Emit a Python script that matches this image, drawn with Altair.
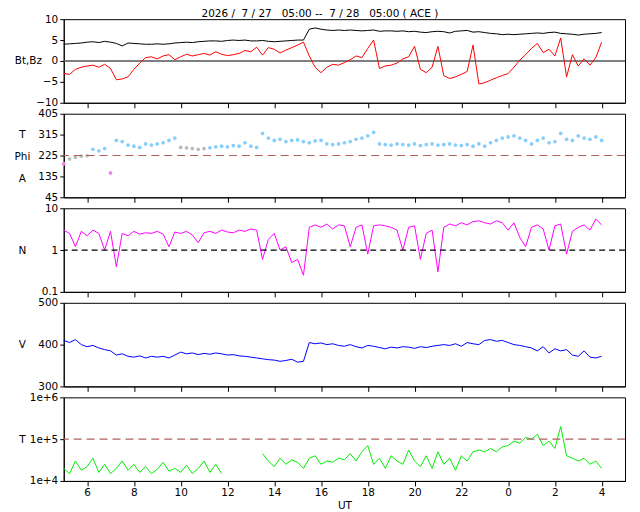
import altair as alt
import pandas as pd

hours = [5.0 + 0.25 * i for i in range(93)]

bt = [4.0,4.1,4.2,4.3,4.5,4.6,4.4,4.7,4.5,
      4.2,3.6,4.3,4.2,4.1,4.0,4.0,4.1,
      4.0,4.1,4.3,4.4,4.5,4.4,4.6,4.7,
      4.8,4.8,4.7,4.9,5.0,4.9,5.0,4.8,
      4.8,4.9,4.7,4.6,4.7,4.8,4.9,5.0,
      5.0,7.6,7.9,7.6,7.4,7.3,7.4,7.3,
      7.4,7.3,7.2,7.3,7.4,7.1,7.2,7.2,
      7.1,7.2,7.0,7.1,6.9,6.8,7.0,7.1,
      7.0,6.7,7.1,7.2,7.3,6.9,7.0,6.8,
      6.6,6.5,6.3,6.4,6.3,6.4,6.5,6.6,
      6.7,6.6,6.8,6.9,6.6,6.5,6.4,6.2,
      6.4,6.5,6.6,6.8]
bz = [-3.0,-3.2,-2.0,-1.5,-1.2,-1.0,-1.5,-0.8,-1.8,
      -4.5,-4.3,-3.8,-2.0,-0.5,0.8,1.0,0.5,
      1.2,1.5,0.3,1.0,1.6,1.2,1.5,1.8,
      1.4,2.2,1.6,1.3,1.5,1.8,2.5,2.2,
      3.3,1.4,3.2,2.8,1.9,2.6,3.2,3.8,
      4.5,1.2,-1.5,-2.8,-1.5,-0.8,-1.0,-0.4,
      0.3,1.2,0.8,3.0,5.0,-1.8,-1.2,-1.0,
      -0.5,0.5,1.0,3.5,-2.0,-2.8,-1.5,3.5,
      -3.5,-4.2,-3.8,-3.2,-2.5,3.8,-5.5,-5.2,
      -4.6,-4.0,-3.5,-3.0,-1.5,0.2,1.5,3.0,
      4.2,2.0,2.8,1.2,5.5,-3.8,1.5,-1.2,
      0.5,-1.0,0.8,4.5]
phi = [190,210,218,222,224,252,245,255,150,
       290,285,270,265,260,275,270,275,
       280,290,300,260,258,255,252,255,
       258,262,265,262,268,265,280,265,
       260,320,300,290,295,285,290,292,
       285,280,288,290,275,272,275,280,
       285,295,300,310,325,275,272,270,
       275,272,270,275,268,272,275,270,
       272,275,270,268,272,265,275,265,
       280,290,300,305,310,300,290,275,
       290,300,280,285,320,295,290,310,
       300,295,305,290]
phi_cat = (["m"] + ["g"] * 4 + ["b"] * 3 + ["m"] + ["b"] * 11 + ["g"] * 5 + ["b"] * 68)
dens = [3.0,2.5,1.2,2.8,2.2,3.0,2.5,1.0,2.8,
        0.4,2.5,2.2,2.8,2.4,2.6,2.5,2.8,
        2.4,1.2,2.7,2.5,2.8,2.3,1.5,2.6,
        2.8,2.5,3.0,2.7,2.6,3.0,2.8,3.2,
        3.0,0.6,1.8,2.5,1.0,1.2,0.5,0.6,
        0.25,3.5,4.0,3.5,4.2,3.2,4.0,3.8,
        1.2,3.5,4.0,0.8,3.8,4.0,3.8,3.5,
        3.0,1.0,3.5,3.8,0.6,2.5,3.0,0.3,
        3.5,4.2,3.8,4.5,4.0,4.8,5.0,4.5,
        4.2,5.0,4.5,3.0,4.5,2.0,1.2,3.5,
        4.0,3.2,1.0,3.8,4.2,0.8,2.8,3.5,
        4.0,3.0,5.5,4.0]
vel = [410,405,412,400,395,398,392,388,385,
       375,378,372,370,373,368,372,370,
       372,368,375,382,378,380,376,379,
       377,380,378,375,376,373,372,370,
       368,366,364,363,360,362,365,358,
       360,405,402,404,400,402,398,396,
       400,395,392,398,396,393,390,394,
       392,395,394,391,395,393,396,398,
       400,398,402,396,405,402,400,410,
       412,408,410,405,400,398,395,392,
       385,395,380,390,385,388,375,372,
       385,370,368,372]
temp = [2.0e4,1.5e4,3.0e4,1.8e4,2.2e4,3.5e4,1.6e4,2.5e4,1.5e4,
        2.0e4,3.0e4,1.8e4,2.5e4,1.6e4,2.2e4,1.5e4,1.9e4,
        2.8e4,1.7e4,2.0e4,1.6e4,2.4e4,1.5e4,2.0e4,3.0e4,
        1.6e4,2.5e4,1.5e4,None,None,None,None,None,
        None,4.5e4,3.0e4,2.2e4,3.5e4,2.5e4,3.2e4,2.8e4,
        2.0e4,3.5e4,4.0e4,2.5e4,3.0e4,2.8e4,3.5e4,3.2e4,
        4.5e4,3.0e4,5.0e4,7.0e4,2.5e4,3.5e4,2.0e4,4.0e4,
        3.0e4,2.5e4,5.5e4,3.0e4,2.2e4,4.0e4,2.0e4,5.0e4,
        2.5e4,3.5e4,1.8e4,4.0e4,3.0e4,5.0e4,5.5e4,5.0e4,
        6.0e4,5.0e4,6.5e4,7.0e4,9.0e4,8.0e4,1.1e5,1.0e5,
        1.3e5,7.0e4,9.0e4,6.0e4,2.0e5,4.0e4,3.5e4,3.0e4,
        3.5e4,2.5e4,3.0e4,2.0e4]
xticks = list(range(6, 29, 2))

seg = []
s = 0
for i, t in enumerate(temp):
    if t is None and (i == 0 or temp[i - 1] is not None):
        s += 1
    seg.append(s)
df = pd.DataFrame(dict(h=hours, bt=bt, bz=bz, phi=phi, pc=phi_cat, n=dens, v=vel, t=temp, seg=seg))
dft = df.dropna(subset=["t"])

W = 564
H = 84
FONT = "DejaVu Sans"
NB = "\u00a0"

def xenc(last=False):
    return alt.X("h:Q", scale=alt.Scale(domain=[5, 29], nice=False),
                 axis=alt.Axis(values=xticks, title="UT" if last else None, labels=last,
                               labelExpr="datum.value >= 24 ? datum.value - 24 : datum.value",
                               grid=False, tickSize=5, titleFontWeight="normal",
                               titleFont=FONT, titleFontSize=10.5, titlePadding=2))

def yax(title, values, expr=None, tx=-42, **extra):
    kw = dict(values=values, grid=False, title=title, titleAngle=0, titleFontWeight="normal",
              titleX=tx, titleAlign="center", titleBaseline="middle", titleFontSize=10.5,
              minExtent=42, maxExtent=42, tickSize=4, titleFont=FONT, labelOverlap=False)
    kw.update(extra)
    if expr:
        kw["labelExpr"] = expr
    return alt.Axis(**kw)

def hrule(y, color, dash, axis, width=1.2):
    return alt.Chart(pd.DataFrame({"y": [y]})).mark_rule(color=color, strokeDash=dash, strokeWidth=width).encode(
        y=alt.Y("y:Q", axis=axis))

# panel 1
ax1 = yax("Bt,Bz", [-10, -5, 0, 5, 10], tx=-36)
y1 = alt.Y("bt:Q", scale=alt.Scale(domain=[-10, 10], nice=False), axis=ax1)
p1 = alt.layer(
    alt.Chart(df).mark_line(color="black", strokeWidth=1).encode(x=xenc(), y=y1),
    hrule(0, "#555", [1, 0], ax1, 1.5),
    alt.Chart(df).mark_line(color="red", strokeWidth=1).encode(x=xenc(), y=alt.Y("bz:Q", axis=ax1)),
).properties(width=W, height=H)

# panel 2
ax2 = yax(["T", "Phi", "A"], [45, 135, 225, 315, 405], titleY=21, titleLineHeight=22)
y2 = alt.Y("phi:Q", scale=alt.Scale(domain=[45, 405], nice=False), axis=ax2)
p2 = alt.layer(
    alt.Chart(df).mark_circle(size=14, opacity=1).encode(
        x=xenc(), y=y2,
        color=alt.Color("pc:N", scale=alt.Scale(domain=["b", "g", "m"], range=["#87cefa", "#bbbbbb", "#ee82ee"]), legend=None)),
    hrule(225, "#b06060", [8, 5], ax2),
).properties(width=W, height=H)

# panel 3
ax3 = yax("N", [0.1, 1, 10])
y3 = alt.Y("n:Q", scale=alt.Scale(type="log", domain=[0.1, 10], nice=False), axis=ax3)
p3 = alt.layer(
    alt.Chart(df).mark_line(color="magenta", strokeWidth=1).encode(x=xenc(), y=y3),
    hrule(1, "black", [6, 4], ax3),
).properties(width=W, height=H)

# panel 4
y4 = alt.Y("v:Q", scale=alt.Scale(domain=[300, 500], nice=False),
           axis=yax("V", [300, 400, 500]))
p4 = alt.Chart(df).mark_line(color="blue", strokeWidth=1).encode(x=xenc(), y=y4).properties(width=W, height=H)

# panel 5
ax5 = yax("T", [1e4, 1e5, 1e6], expr="'1e+' + round(log(datum.value)/LN10)")
y5 = alt.Y("t:Q", scale=alt.Scale(type="log", domain=[1e4, 1e6], nice=False), axis=ax5)
p5 = alt.layer(
    alt.Chart(dft).mark_line(color="#00ee00", strokeWidth=1).encode(x=xenc(True), y=y5, detail="seg:N"),
    hrule(1e5, "#b06060", [8, 5], ax5),
).properties(width=W, height=H)

title_txt = f"2026 /{NB}{NB}7 / 27{NB}{NB}{NB}05:00 --{NB}{NB}7 / 28{NB}{NB}{NB}05:00 ( ACE )"
chart = alt.vconcat(p1, p2, p3, p4, p5, spacing=11, bounds="flush").properties(
    title=alt.TitleParams(title_txt, fontSize=10.5, fontWeight="normal", font=FONT, offset=-6, anchor="middle"),
    padding={"left": 5, "top": 0, "right": 5, "bottom": 5},
).configure_axis(labelFont=FONT, labelFontSize=10.5, labelColor="black", domainColor="black",
                 tickColor="black", labelPadding=2
).configure_view(stroke="black", strokeWidth=1)

chart.save("out.html", embed_options={"renderer": "svg", "actions": False})
